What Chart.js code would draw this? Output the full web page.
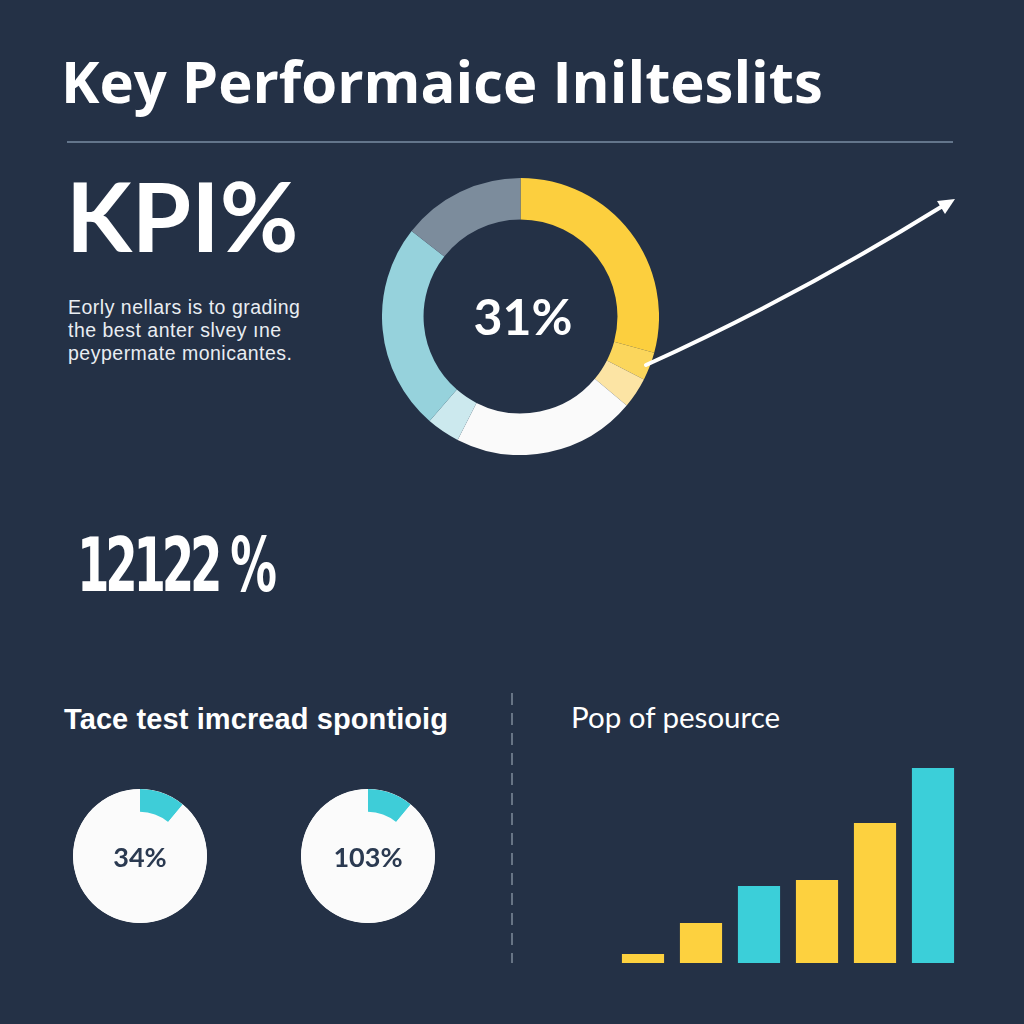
<!DOCTYPE html>
<html>
<head>
<meta charset="utf-8">
<script src="https://cdn.jsdelivr.net/npm/chart.js@4.4.1/dist/chart.umd.min.js"></script>
<style>
  html, body {
    margin: 0;
    padding: 0;
    background: #243146;
  }
  #page {
    position: relative;
    width: 1024px;
    height: 1024px;
    overflow: hidden;
    background: #243146;
    color: #ffffff;
  }
  .txt {
    position: absolute;
    white-space: nowrap;
    line-height: 1;
  }
  .para {
    font-family: 'Liberation Sans';
    font-size: 19.5px;
    letter-spacing: 0.5px;
    color: #e9edf2;
    left: 68px;
  }
  canvas {
    position: absolute;
  }
  .pie {
    border-radius: 50%;
    background: #fbfbfb;
  }
  svg {
    position: absolute;
    left: 0;
    top: 0;
    pointer-events: none;
  }
</style>
</head>
<body>
<div id="page">
  <div class="txt" id="title" style="left:61px; top:52px; font-family:'Open Sans'; font-weight:700; font-size:58px;">Key Performaice Inilteslits</div>
  <div style="position:absolute; left:67px; top:141px; width:886px; height:2px; background:#63758b;"></div>

  <div class="txt" style="left:66px; top:167px; font-family:Lato; font-weight:700; font-size:96px;">KPI%</div>
  <div class="txt para" style="top:298px;">Eorly nellars is to grading</div>
  <div class="txt para" style="top:321px;">the best anter slvey ıne</div>
  <div class="txt para" style="top:344px;">peypermate monicantes.</div>

  <canvas id="ringChart" width="277" height="277" style="left:382px; top:178px;"></canvas>
  <div class="txt" style="left:423px; top:291px; width:200px; text-align:center; font-family:Lato; font-weight:700; font-size:50px;">31%</div>

  <div class="txt" style="left:77px; top:528px; font-family:'DejaVu Sans Condensed','DejaVu Sans'; font-stretch:condensed; font-weight:700; font-size:74px; letter-spacing:-6px; transform:scaleX(0.70); transform-origin:left top;">12122 %</div>

  <div class="txt" style="left:64px; top:705px; font-family:'Liberation Sans'; font-weight:700; font-size:29px; letter-spacing:0.1px;">Tace test imcread spontioig</div>
  <canvas id="pieA" class="pie" width="134" height="134" style="left:73px; top:789px;"></canvas>
  <canvas id="pieB" class="pie" width="134" height="134" style="left:301px; top:789px;"></canvas>
  <div class="txt" style="left:40px; top:843px; width:200px; text-align:center; font-family:Lato; font-weight:700; font-size:27px; color:#2b3a51;">34%</div>
  <div class="txt" style="left:268px; top:843px; width:200px; text-align:center; font-family:Lato; font-weight:700; font-size:27px; color:#2b3a51;">103%</div>

  <div class="txt" style="left:571px; top:702px; font-family:Lato; font-weight:400; font-size:29.5px;">Pop of pesource</div>
  <canvas id="barChart" width="348" height="200" style="left:614px; top:763px;"></canvas>

  <svg width="1024" height="1024" viewBox="0 0 1024 1024">
    <line x1="512" y1="693" x2="512" y2="963" stroke="#7d8a9b" stroke-width="1.5" stroke-dasharray="12 8"/>
    <path d="M646 365 Q794 298 941 207" fill="none" stroke="#ffffff" stroke-width="4" stroke-linecap="round"/>
    <polygon points="955,199 937,201 945,214" fill="#ffffff"/>
  </svg>
</div>

<script>
  // big ring, share of each part (clockwise from the top)
  const ringLabels = ["A", "B", "C", "D", "E", "F", "G"];
  const ringValues = [29.2, 3.3, 3.6, 21.4, 3.9, 24.2, 14.4];
  const ringColors = ["#fccf3e", "#fbd65c", "#fce4a4", "#fafafa", "#cce9ee", "#96d2dc", "#7c8c9c"];

  // the two small pies
  const pieLabels = ["done", "rest"];
  const pieAValues = [11, 89];
  const pieBValues = [11, 89];

  // bars on the right
  const barLabels = ["1", "2", "3", "4", "5", "6"];
  const barValues = [4.5, 20, 38.5, 41.5, 70, 97.5];
  const barColors = ["#fdd13f", "#fdd13f", "#3bcfd9", "#fdd13f", "#fdd13f", "#3bcfd9"];

  const CYAN = "#3ecdd8";
  const WHITE = "#fbfbfb";

  Chart.defaults.animation = false;
  Chart.defaults.plugins.legend.display = false;
  Chart.defaults.plugins.tooltip.enabled = false;

  new Chart(document.getElementById("ringChart"), {
    type: "doughnut",
    data: {
      labels: ringLabels,
      datasets: [
        {
          data: ringValues,
          backgroundColor: ringColors,
          borderWidth: 0,
        },
      ],
    },
    options: {
      responsive: false,
      cutout: "70%",
      layout: { padding: 0 },
    },
  });

  // white disc comes from the canvas background, only the ring is drawn
  function smallPie(id, values) {
    return new Chart(document.getElementById(id), {
      type: "doughnut",
      data: {
        labels: pieLabels,
        datasets: [
          {
            data: values,
            backgroundColor: [CYAN, WHITE],
            borderWidth: 0,
          },
        ],
      },
      options: {
        responsive: false,
        cutout: "66%",
        layout: { padding: 0 },
      },
    });
  }

  smallPie("pieA", pieAValues);
  smallPie("pieB", pieBValues);

  new Chart(document.getElementById("barChart"), {
    type: "bar",
    data: {
      labels: barLabels,
      datasets: [
        {
          data: barValues,
          backgroundColor: barColors,
          borderWidth: 0,
          categoryPercentage: 1,
          barPercentage: 0.727,
        },
      ],
    },
    options: {
      responsive: false,
      layout: { padding: 0 },
      scales: {
        x: { display: false },
        y: { display: false, min: 0, max: 100 },
      },
    },
  });
</script>
</body>
</html>
